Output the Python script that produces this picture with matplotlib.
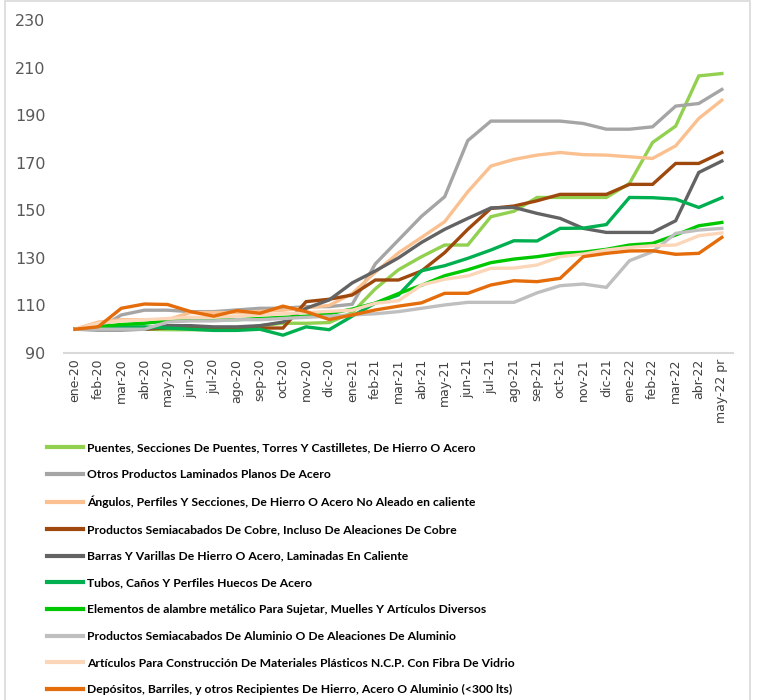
import matplotlib.pyplot as plt
from matplotlib.patches import Rectangle

meses = ['ene-20', 'feb-20', 'mar-20', 'abr-20', 'may-20', 'jun-20', 'jul-20', 'ago-20',
         'sep-20', 'oct-20', 'nov-20', 'dic-20', 'ene-21', 'feb-21', 'mar-21', 'abr-21',
         'may-21', 'jun-21', 'jul-21', 'ago-21', 'sep-21', 'oct-21', 'nov-21', 'dic-21',
         'ene-22', 'feb-22', 'mar-22', 'abr-22', 'may-22 pr']

puentes = [100, 100, 100, 100, 99.8, 99.8, 99.8, 99.8, 101.5, 102.5, 102.5, 102.8, 107, 117,
           125, 130.5, 135.4, 135.4, 147.3, 149.6, 155.4, 155.4, 155.4, 155.4, 161.3, 178.5,
           185.4, 206.5, 207.5]
laminados = [100, 100, 106, 108, 108, 107.4, 107.4, 108.1, 108.8, 108.8, 109.5, 109.5, 110.5,
             127.5, 137.5, 147.5, 155.7, 179.3, 187.5, 187.5, 187.5, 187.5, 186.5, 184.1, 184.1,
             185.1, 193.8, 194.9, 200.8]
angulos = [100, 103, 104, 104, 104, 107, 107, 107, 107.5, 108, 109, 110, 115, 124,
           132.1, 138.6, 145.2, 157.8, 168.6, 171.4, 173.2, 174.3, 173.4, 173.2, 172.5,
           171.8, 177.1, 188.6, 196.3]
cobre = [100, 100, 100, 100, 100.5, 100.5, 100.5, 100.5, 100.5, 100.5, 111.6, 112.6, 114.4,
         120.7, 120.7, 124.5, 132.2, 142, 150.8, 151.8, 154, 156.7, 156.7, 156.7, 160.9,
         160.9, 169.7, 169.7, 174.3]
barras = [100, 99.7, 99.7, 100, 101.5, 101.5, 101, 101, 101.5, 103, 108.8, 112.3, 119.5,
          124.5, 130, 136.5, 142, 146.6, 151, 151.2, 148.7, 146.6, 142.4, 140.7, 140.7,
          140.7, 145.6, 165.9, 170.7]
tubos = [100, 100.5, 101, 101, 100.5, 100, 99.5, 99.5, 100, 97.5, 101, 99.8, 105.5, 111,
         114.4, 124.6, 126.7, 129.8, 133.3, 137.2, 137.1, 142.4, 142.5, 144, 155.4, 155.3,
         154.7, 151.2, 155.3]
alambre = [100, 101, 102, 102.5, 103.5, 104, 104, 104, 104.5, 105, 105.5, 106.5, 108.5, 111,
           115, 118.5, 122.5, 125, 128, 129.5, 130.5, 131.9, 132.4, 133.6, 135.4, 136.1,
           139.6, 143.5, 144.9]
aluminio = [100, 100, 100, 100, 103, 103.5, 103.5, 104, 104, 104.5, 105, 105.5, 106, 106.5,
            107.4, 108.8, 110.2, 111.3, 111.3, 111.3, 115.3, 118.3, 119, 117.6, 128.8,
            132.6, 140.3, 141.7, 142.4]
plasticos = [100, 102.5, 103.5, 104, 104.5, 105, 105, 105.5, 106, 106.5, 107, 107.5, 108,
             110.9, 112, 118.6, 121, 122.4, 125.6, 125.7, 127, 130.5, 131.6, 133.3, 134.4,
             135.1, 135.4, 139.3, 140.5]
depositos = [100, 101, 108.8, 110.6, 110.4, 107.4, 105.5, 107.8, 106.7, 109.7, 107.4, 104.1,
             106, 108.1, 109.7, 111.1, 115.1, 115.1, 118.6, 120.4, 120, 121.4, 130.5, 131.9,
             132.9, 133, 131.5, 131.9, 138.6]

series = [
    ('Puentes, Secciones De Puentes, Torres Y Castilletes, De Hierro O Acero', puentes, '#92D050'),
    ('Otros Productos Laminados Planos De Acero', laminados, '#A5A5A5'),
    ('Ángulos, Perfiles Y Secciones, De Hierro O Acero No Aleado en caliente', angulos, '#FBC08F'),
    ('Productos Semiacabados De Cobre, Incluso De Aleaciones De Cobre', cobre, '#9E480E'),
    ('Barras Y Varillas De Hierro O Acero, Laminadas En Caliente', barras, '#636363'),
    ('Tubos, Caños Y Perfiles Huecos De Acero', tubos, '#00B050'),
    ('Elementos de alambre metálico Para Sujetar, Muelles Y Artículos Diversos', alambre, '#00C800'),
    ('Productos Semiacabados De Aluminio O De Aleaciones De Aluminio', aluminio, '#BFBFBF'),
    ('Artículos Para Construcción De Materiales Plásticos N.C.P. Con Fibra De Vidrio', plasticos, '#FBD6B8'),
    ('Depósitos, Barriles, y otros Recipientes De Hierro, Acero O Aluminio (<300 lts)', depositos, '#E46C0A'),
]

fig = plt.figure(figsize=(7.6, 7), dpi=100)
ax = fig.add_axes([0.0836, 0.4957, 0.8814, 0.4757])

x = list(range(len(meses)))
handles = []
for name, vals, col in series:
    h, = ax.plot(x, vals, color=col, lw=2.4, label=name, solid_joinstyle='miter')
    handles.append(h)

ax.set_xlim(-0.5, len(meses) - 0.5)
ax.set_ylim(90, 230)
ax.set_yticks(range(90, 231, 20))
ax.set_xticks(x)
ax.set_xticklabels(meses, rotation=90)
ax.tick_params(axis='y', length=0, labelsize=11.5, colors='#595959', pad=13)
ax.tick_params(axis='x', length=0, labelsize=9, colors='#404040', pad=4)
for s in ['top', 'right', 'left']:
    ax.spines[s].set_visible(False)
ax.spines['bottom'].set_color('#D9D9D9')
ax.spines['bottom'].set_linewidth(1.5)

leg = fig.legend(handles=handles, loc='upper left', bbox_to_anchor=(0.062, 0.368),
                 frameon=False, handlelength=3.0, handletextpad=0.33, labelspacing=1.3,
                 borderpad=0, borderaxespad=0,
                 prop={'family': ['Lato', 'DejaVu Sans'], 'weight': 'bold', 'size': 8.7})
for line in leg.get_lines():
    line.set_linewidth(3)

fig.patches.append(Rectangle((5 / 760, -0.01), 745 / 760, 1.008, transform=fig.transFigure,
                             fill=False, edgecolor='#D9D9D9', lw=1.2))

fig.savefig('out.png', dpi=100)
